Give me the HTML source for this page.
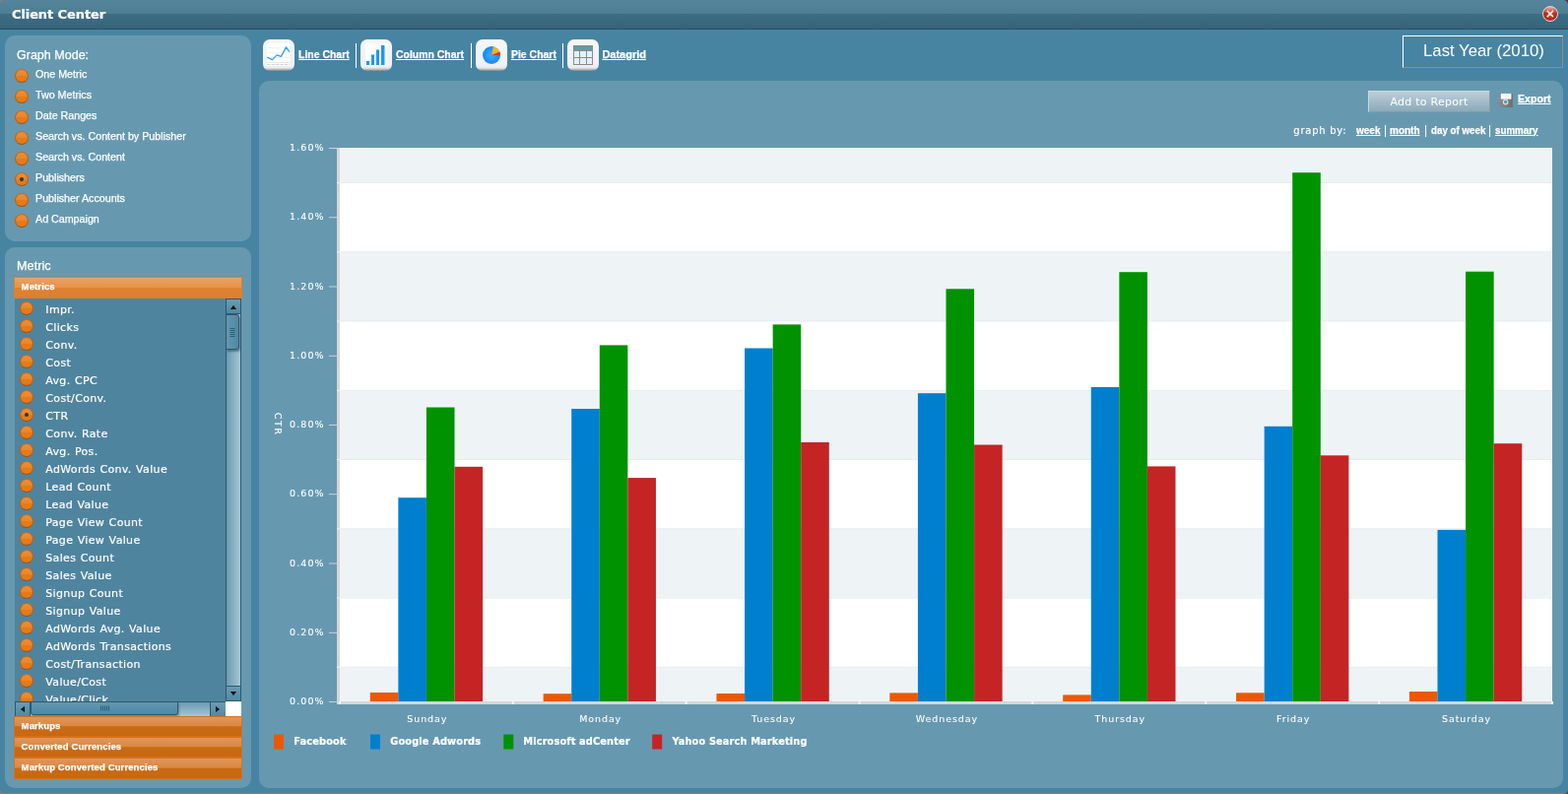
<!DOCTYPE html>
<html lang="en">
<head>
<meta charset="utf-8">
<title>Client Center</title>
<style>
*{box-sizing:border-box;margin:0;padding:0}
html,body{width:1592px;height:806px;overflow:hidden}
body{position:relative;background:#4784a1;color:#fff;font-family:"Liberation Sans",sans-serif;font-size:12px}
.abs{position:absolute}
.my{display:inline-block;white-space:nowrap;transform-origin:0 50%;-webkit-text-stroke:.25px #fff}
#titlebar{position:absolute;left:0;top:0;width:1592px;height:30px;
 background:linear-gradient(#54859b 0,#4e7e93 14px,#3d6e84 14px,#36637a 28.6px,#2a4e61 29px,#2a4e61 30px);}
#titlebar .t{position:absolute;left:12px;top:6px;font:bold 13px/18px "DejaVu Sans","Liberation Sans",sans-serif;letter-spacing:-.1px;white-space:nowrap;-webkit-text-stroke:.2px #fff}
#close{position:absolute;left:1566px;top:6px;width:16px;height:16px;border-radius:50%;
 background:linear-gradient(rgba(255,235,230,.7) 0,rgba(255,255,255,0) 48%),radial-gradient(circle at 50% 55%,#cf3a2e 0,#b4261a 60%,#96180e 100%);border:1px solid #ead6d2;
 color:#fff;font:15px/14px "Liberation Sans",sans-serif;-webkit-text-stroke:.3px #fff;text-align:center;overflow:hidden}
#close span{position:absolute;left:0;top:-.5px;width:14px;height:14px;display:block}
.cn{position:absolute;width:4px;height:4px}
.corner{position:absolute;width:6px;height:6px;background:#777}
.panel{position:absolute;background:#6699b0;border-radius:10px}
.h14{position:absolute;font-size:13.4px;line-height:16px;white-space:nowrap}
.opt{position:absolute;left:10px;height:14px;width:230px}
.rb{position:absolute;left:0;top:0;width:14px;height:14px;border-radius:50%;border:1px solid;border-color:#cc6a18 #be600f #a9510a #be600f;
 background:linear-gradient(#ec8f3a 0,#e8862b 48%,#e77a14 52%,#e27b1c 100%)}
.rb.on:after{content:"";position:absolute;left:4px;top:4px;width:4px;height:4px;border-radius:50%;background:#2a3447}
.ol{position:absolute;left:21.2px;top:-2.6px;font-size:11px;line-height:16px;transform:scaleX(.972)}
.acc{position:absolute;left:9px;width:232px;height:21px;border:1px solid #e47d22;}
.acc.open{background:linear-gradient(#eca263 0,#e8924a 48%,#df8232 52%,#dd7f2e 100%)}
.acc.shut{background:linear-gradient(#e0965a 0,#da8844 45%,#c96a14 52%,#c66812 100%);border-color:#d5721c}
.acc span{position:absolute;left:6.6px;top:1.5px;font-weight:bold;font-size:9.5px;line-height:14px;transform:none;letter-spacing:.12px}
#list{position:absolute;left:10px;top:52px;width:230px;height:409px;background:#4f849f;overflow:hidden}
.mi{position:absolute;left:5px;height:14px;width:200px}
.ml{-webkit-text-stroke:.18px #fff;position:absolute;left:26.3px;top:2px;font:11px/14px "DejaVu Sans","Liberation Sans",sans-serif;letter-spacing:.34px;word-spacing:.6px;white-space:nowrap}
.sbv{position:absolute;left:214px;top:0;width:16px;height:409px;border:1px solid #2c586e;background:linear-gradient(90deg,#6b9ab0,#a6c6d5)}
.sbh{position:absolute;left:0;top:409px;width:215px;height:16px;border:1px solid #2c586e;background:linear-gradient(#6b9ab0,#a6c6d5)}
.btn{position:absolute;background:linear-gradient(#6a9cb3,#4f88a3);border:0 solid #2c586e}
.thumbv{position:absolute;left:0;top:15px;width:13px;height:36px;background:linear-gradient(90deg,#6397af,#4f88a3);border:1px solid #2c586e;border-left:0;border-radius:0 3px 3px 0;box-shadow:1px 2px 2px rgba(30,60,80,.5)}
.thumbh{position:absolute;left:15px;top:0;width:150px;height:13px;background:linear-gradient(#6397af,#4f88a3);border:1px solid #2c586e;border-top:0;border-radius:0 0 3px 3px;box-shadow:1px 2px 2px rgba(30,60,80,.4)}
.tri{position:absolute;width:0;height:0;border:3.5px solid transparent}
.ico{position:absolute;top:40px;width:32px;height:32px;border-radius:7px;background:linear-gradient(#f4f7fa 0,#eef2f6 82%,#e6eaee 90%,#bdbdbd 95%,#827e7c 100%);}
.ico svg{position:absolute;left:0;top:0}
.tl{position:absolute;top:46.5px;font-weight:bold;font-size:11px;line-height:16px;text-decoration:underline;transform:scaleX(.95)}
.sep{position:absolute;top:44px;width:1px;height:25px;background:#fff}
#date{position:absolute;left:1424px;top:36px;width:163px;height:33px;border:1px solid;border-color:#fff #8e8e8e #8e8e8e #fff;}
#date span{position:absolute;left:20px;top:4px;font-size:17px;line-height:22px;transform:scaleX(.985);-webkit-text-stroke:0}
#addbtn{position:absolute;left:1389px;top:92px;width:124px;height:22px;border:1px solid;border-color:#c9d7de #8d9aa1 #8d9aa1 #c9d7de;background:linear-gradient(#bccfd9,#8aaaba);
 font:11px/21px "DejaVu Sans","Liberation Sans",sans-serif;letter-spacing:.25px;text-align:center;color:#fff}
.gb{position:absolute;top:125px;line-height:14px;white-space:nowrap}
.chart{position:absolute;left:0;top:0}
.ax{font:9.5px "DejaVu Sans","Liberation Sans",sans-serif;fill:#fff;letter-spacing:.9px;stroke:#fff;stroke-width:.08px}
.ay{letter-spacing:1.1px}
.lg{stroke:#fff;stroke-width:.2px;font:bold 9.8px "DejaVu Sans","Liberation Sans",sans-serif;fill:#fff;letter-spacing:.14px}
</style>
</head>
<body>
<div id="titlebar"><span class="t">Client Center</span>
 <div id="close"><span>&#215;</span></div>
</div>

<div class="panel" style="left:5px;top:36px;width:250px;height:209px">
 <div class="h14 my" style="left:12.2px;top:11.6px;transform:scaleX(.935)">Graph Mode:</div>
 <div style="position:absolute;left:0;top:-36px">
<div class="opt" style="top:70px"><span class="rb"></span><span class="my ol">One Metric</span></div>
<div class="opt" style="top:91px"><span class="rb"></span><span class="my ol">Two Metrics</span></div>
<div class="opt" style="top:112px"><span class="rb"></span><span class="my ol">Date Ranges</span></div>
<div class="opt" style="top:133px"><span class="rb"></span><span class="my ol">Search vs. Content by Publisher</span></div>
<div class="opt" style="top:154px"><span class="rb"></span><span class="my ol">Search vs. Content</span></div>
<div class="opt" style="top:175px"><span class="rb on"></span><span class="my ol">Publishers</span></div>
<div class="opt" style="top:196px"><span class="rb"></span><span class="my ol">Publisher Accounts</span></div>
<div class="opt" style="top:217px"><span class="rb"></span><span class="my ol">Ad Campaign</span></div>
 </div>
</div>

<div class="panel" style="left:5px;top:251px;width:250px;height:549px">
 <div class="h14 my" style="left:12.3px;top:10.5px;transform:scaleX(.95)">Metric</div>
 <div class="acc open" style="top:30px;height:22px"><span class="my">Metrics</span></div>
 <div id="list">
<div class="mi" style="top:3px"><span class="rb"></span><span class="ml">Impr.</span></div>
<div class="mi" style="top:21px"><span class="rb"></span><span class="ml">Clicks</span></div>
<div class="mi" style="top:39px"><span class="rb"></span><span class="ml">Conv.</span></div>
<div class="mi" style="top:57px"><span class="rb"></span><span class="ml">Cost</span></div>
<div class="mi" style="top:75px"><span class="rb"></span><span class="ml">Avg. CPC</span></div>
<div class="mi" style="top:93px"><span class="rb"></span><span class="ml">Cost/Conv.</span></div>
<div class="mi" style="top:111px"><span class="rb on"></span><span class="ml">CTR</span></div>
<div class="mi" style="top:129px"><span class="rb"></span><span class="ml">Conv. Rate</span></div>
<div class="mi" style="top:147px"><span class="rb"></span><span class="ml">Avg. Pos.</span></div>
<div class="mi" style="top:165px"><span class="rb"></span><span class="ml">AdWords Conv. Value</span></div>
<div class="mi" style="top:183px"><span class="rb"></span><span class="ml">Lead Count</span></div>
<div class="mi" style="top:201px"><span class="rb"></span><span class="ml">Lead Value</span></div>
<div class="mi" style="top:219px"><span class="rb"></span><span class="ml">Page View Count</span></div>
<div class="mi" style="top:237px"><span class="rb"></span><span class="ml">Page View Value</span></div>
<div class="mi" style="top:255px"><span class="rb"></span><span class="ml">Sales Count</span></div>
<div class="mi" style="top:273px"><span class="rb"></span><span class="ml">Sales Value</span></div>
<div class="mi" style="top:291px"><span class="rb"></span><span class="ml">Signup Count</span></div>
<div class="mi" style="top:309px"><span class="rb"></span><span class="ml">Signup Value</span></div>
<div class="mi" style="top:327px"><span class="rb"></span><span class="ml">AdWords Avg. Value</span></div>
<div class="mi" style="top:345px"><span class="rb"></span><span class="ml">AdWords Transactions</span></div>
<div class="mi" style="top:363px"><span class="rb"></span><span class="ml">Cost/Transaction</span></div>
<div class="mi" style="top:381px"><span class="rb"></span><span class="ml">Value/Cost</span></div>
<div class="mi" style="top:399px"><span class="rb"></span><span class="ml">Value/Click</span></div>
  <div class="sbv">
   <div class="btn" style="left:0;top:0;width:14px;height:15px;border-bottom-width:1px"><i class="tri" style="left:3.5px;top:5.5px;border-bottom-color:#000;border-top-width:0;border-bottom-width:4px"></i></div>
   <div class="thumbv"><svg width="13" height="36" style="position:absolute;left:0;top:-1px"><path d="M3.5 14.5h5M3.5 16.5h5M3.5 18.5h5M3.5 20.5h5M3.5 22.5h5" stroke="#2f5d74" stroke-width="1"/></svg></div>
   <div class="btn" style="left:0;top:392px;width:14px;height:15px;border-top-width:1px"><i class="tri" style="left:3.5px;top:5px;border-top-color:#000;border-bottom-width:0;border-top-width:4px"></i></div>
  </div>
 </div>
 <div style="position:absolute;left:10px;top:461px;width:235px;height:15px;">
  <div class="sbh" style="top:0">
   <div class="btn" style="left:0;top:0;width:15px;height:14px;border-right-width:1px"><i class="tri" style="left:5px;top:3.5px;border-right-color:#000;border-left-width:0;border-right-width:4px"></i></div>
   <div class="thumbh"><svg width="150" height="13" style="position:absolute;left:0;top:0"><path d="M70.5 3.5v5M72.5 3.5v5M74.5 3.5v5M76.5 3.5v5M78.5 3.5v5" stroke="#2f5d74" stroke-width="1"/></svg></div>
   <div class="btn" style="left:197px;top:0;width:16px;height:14px;border-left-width:1px"><i class="tri" style="left:5px;top:3.5px;border-left-color:#000;border-right-width:0;border-left-width:4px"></i></div>
  </div>
  <div style="position:absolute;left:214px;top:0;width:16px;height:15px;background:#fff"></div>
 </div>
 <div class="acc shut" style="top:476px"><span class="my">Markups</span></div>
 <div class="acc shut" style="top:497px"><span class="my">Converted Currencies</span></div>
 <div class="acc shut" style="top:518px;height:22px"><span class="my">Markup Converted Currencies</span></div>
</div>

<div class="ico" style="left:267px"><svg width="32" height="32" viewBox="0 0 32 32"><rect x="4" y="4" width="23" height="23" fill="#fff"/><path d="M4 8.500h23M4 13.500h23M4 18.500h23" stroke="#f3f3f3" stroke-width="1"/><path d="M4 23.500h23" stroke="#e8e8e8" stroke-width="1"/><path d="M4 25.500h23" stroke="#d4d4d4" stroke-width="1" stroke-dasharray="3.500 1"/><path d="M4.200 18.200 L9.500 20.600 L14.100 15.900 L18.400 17.400 L23.400 7.900 L27 12.600" fill="none" stroke="#35a0f2" stroke-width="1.300" stroke-linejoin="round"/></svg></div>
<span class="tl my" style="left:302.5px">Line Chart</span>
<div class="sep" style="left:361px"></div>
<div class="ico" style="left:366px"><svg width="32" height="32" viewBox="0 0 32 32"><rect x="5" y="4" width="22" height="23" fill="#fbfcfd"/><rect x="6" y="22" width="3" height="4" fill="#2196f3"/><rect x="11" y="15.500" width="3" height="10.500" fill="#2196f3"/><rect x="16" y="10.500" width="3" height="15.500" fill="#2196f3"/><rect x="21" y="6" width="3.500" height="20" fill="#2196f3"/></svg></div>
<span class="tl my" style="left:402px">Column Chart</span>
<div class="sep" style="left:478px"></div>
<div class="ico" style="left:483px"><div style="position:absolute;left:6.95px;top:6.9px;width:18px;height:18px;border-radius:50%;background:radial-gradient(circle at 50% 50%,#34b0ff 0,#1c86ee 70%,#0d60d8 100%)"></div><svg width="32" height="32" viewBox="0 0 32 32"><path d="M15.95 15.9 L17.97 7.13 A9 9 0 0 1 24.41 12.82 Z" fill="#f6b516"/><path d="M15.95 15.9 L24.41 12.82 A9 9 0 0 1 24.95 15.90 Z" fill="#ea2f14"/></svg></div>
<span class="tl my" style="left:518.7px">Pie Chart</span>
<div class="sep" style="left:571px"></div>
<div class="ico" style="left:576px"><svg width="32" height="32" viewBox="0 0 32 32" shape-rendering="crispEdges"><rect x="6" y="6" width="20" height="20" fill="#8a8a8a"/><rect x="7" y="7" width="5" height="4" fill="#58a0a4"/><rect x="13" y="7" width="6" height="4" fill="#58a0a4"/><rect x="20" y="7" width="5" height="4" fill="#58a0a4"/><rect x="7" y="12" width="5" height="6" fill="#e2f1fd"/><rect x="13" y="12" width="6" height="6" fill="#e2f1fd"/><rect x="20" y="12" width="5" height="6" fill="#e2f1fd"/><rect x="7" y="19" width="5" height="6" fill="#e2f1fd"/><rect x="13" y="19" width="6" height="6" fill="#e2f1fd"/><rect x="20" y="19" width="5" height="6" fill="#e2f1fd"/></svg></div>
<span class="tl my" style="left:611.4px;transform:scaleX(1)">Datagrid</span>

<div id="date"><span class="my">Last Year (2010)</span></div>

<div class="panel" style="left:263px;top:82px;width:1324px;height:718px"></div>
<div id="addbtn">Add to Report</div>
<div class="abs" style="left:1522px;top:95px;width:14px;height:14px;background:linear-gradient(90deg,#8a8a8a,#6f6f6f)"><svg width="14" height="14" viewBox="0 0 14 14" style="position:absolute;left:0;top:0"><rect x="1.800" y="0" width="10.600" height="5.600" fill="#fff"/><rect x="3.500" y="1.800" width="7" height="1" fill="#ececec"/><circle cx="6.600" cy="8.600" r="2.300" fill="#5c9cb8" stroke="#d8dcde" stroke-width="1.100"/></svg></div>
<span class="gb my" style="left:1540.5px;top:93px;font-weight:bold;font-size:11px;text-decoration:underline;transform:scaleX(.965)">Export</span>

<span class="gb" style="left:1313.3px;top:126px;font:10px/14px 'DejaVu Sans','Liberation Sans',sans-serif;letter-spacing:.75px;-webkit-text-stroke:.15px #fff">graph by:</span>
<span class="gb my" style="left:1377px;font-weight:bold;font-size:11.5px;text-decoration:underline;transform:scaleX(.87)">week</span>
<span class="gb" style="left:1405px;font-size:12px">|</span>
<span class="gb my" style="left:1411.3px;font-weight:bold;font-size:11.5px;text-decoration:underline;transform:scaleX(.87)">month</span>
<span class="gb" style="left:1446px;font-size:12px">|</span>
<span class="gb my" style="left:1452.6px;font-weight:bold;font-size:11.5px;transform:scaleX(.85)">day of week</span>
<span class="gb" style="left:1511px;font-size:12px">|</span>
<span class="gb my" style="left:1517.5px;font-weight:bold;font-size:11.5px;text-decoration:underline;transform:scaleX(.85)">summary</span>

<svg class="chart" width="1592" height="806" viewBox="0 0 1592 806">
<rect x="345.0" y="150.0" width="1231.0" height="562.0" fill="#ffffff" shape-rendering="crispEdges"/>
<rect x="345.0" y="150.0" width="1231.0" height="35.5" fill="#eef3f6"/>
<rect x="345.0" y="255.8" width="1231.0" height="70.2" fill="#eef3f6"/>
<rect x="345.0" y="396.3" width="1231.0" height="70.2" fill="#eef3f6"/>
<rect x="345.0" y="536.8" width="1231.0" height="70.2" fill="#eef3f6"/>
<rect x="345.0" y="677.3" width="1231.0" height="34.7" fill="#eef3f6"/>
<rect x="345.0" y="185.0" width="1231.0" height="1" fill="#e6ecf0"/>
<rect x="345.0" y="255.3" width="1231.0" height="1" fill="#e6ecf0"/>
<rect x="345.0" y="325.5" width="1231.0" height="1" fill="#e6ecf0"/>
<rect x="345.0" y="395.8" width="1231.0" height="1" fill="#e6ecf0"/>
<rect x="345.0" y="466.0" width="1231.0" height="1" fill="#e6ecf0"/>
<rect x="345.0" y="536.3" width="1231.0" height="1" fill="#e6ecf0"/>
<rect x="345.0" y="606.5" width="1231.0" height="1" fill="#e6ecf0"/>
<rect x="345.0" y="676.8" width="1231.0" height="1" fill="#e6ecf0"/>
<rect x="375.78" y="703.0" width="28.58" height="9.0" fill="#ec5800"/>
<rect x="404.35" y="505.2" width="28.58" height="206.8" fill="#007fcf"/>
<rect x="432.93" y="413.5" width="28.58" height="298.5" fill="#009200"/>
<rect x="461.51" y="473.8" width="28.58" height="238.2" fill="#c42424"/>
<rect x="551.63" y="704.2" width="28.58" height="7.8" fill="#ec5800"/>
<rect x="580.21" y="415.0" width="28.58" height="297.0" fill="#007fcf"/>
<rect x="608.79" y="350.4" width="28.58" height="361.6" fill="#009200"/>
<rect x="637.36" y="485.1" width="28.58" height="226.9" fill="#c42424"/>
<rect x="727.49" y="704.0" width="28.58" height="8.0" fill="#ec5800"/>
<rect x="756.07" y="353.5" width="28.58" height="358.5" fill="#007fcf"/>
<rect x="784.64" y="329.4" width="28.58" height="382.6" fill="#009200"/>
<rect x="813.22" y="449.0" width="28.58" height="263.0" fill="#c42424"/>
<rect x="903.35" y="703.4" width="28.58" height="8.6" fill="#ec5800"/>
<rect x="931.92" y="399.2" width="28.58" height="312.8" fill="#007fcf"/>
<rect x="960.50" y="293.3" width="28.58" height="418.7" fill="#009200"/>
<rect x="989.08" y="451.5" width="28.58" height="260.5" fill="#c42424"/>
<rect x="1079.20" y="705.4" width="28.58" height="6.6" fill="#ec5800"/>
<rect x="1107.78" y="392.9" width="28.58" height="319.1" fill="#007fcf"/>
<rect x="1136.36" y="276.2" width="28.58" height="435.8" fill="#009200"/>
<rect x="1164.93" y="473.4" width="28.58" height="238.6" fill="#c42424"/>
<rect x="1255.06" y="703.3" width="28.58" height="8.7" fill="#ec5800"/>
<rect x="1283.64" y="432.8" width="28.58" height="279.2" fill="#007fcf"/>
<rect x="1312.21" y="175.2" width="28.58" height="536.8" fill="#009200"/>
<rect x="1340.79" y="462.3" width="28.58" height="249.7" fill="#c42424"/>
<rect x="1430.92" y="702.0" width="28.58" height="10.0" fill="#ec5800"/>
<rect x="1459.49" y="537.9" width="28.58" height="174.1" fill="#007fcf"/>
<rect x="1488.07" y="275.7" width="28.58" height="436.3" fill="#009200"/>
<rect x="1516.65" y="450.2" width="28.58" height="261.8" fill="#c42424"/>
<rect x="342" y="150.0" width="3" height="565.0" fill="#d6d6d6" shape-rendering="crispEdges"/>
<rect x="342" y="712" width="1234.0" height="3" fill="#d6d6d6" shape-rendering="crispEdges"/>
<rect x="342" y="185.0" width="3" height="1" fill="#f4f4f4"/>
<rect x="342" y="255.3" width="3" height="1" fill="#f4f4f4"/>
<rect x="342" y="325.5" width="3" height="1" fill="#f4f4f4"/>
<rect x="342" y="395.8" width="3" height="1" fill="#f4f4f4"/>
<rect x="342" y="466.0" width="3" height="1" fill="#f4f4f4"/>
<rect x="342" y="536.3" width="3" height="1" fill="#f4f4f4"/>
<rect x="342" y="606.5" width="3" height="1" fill="#f4f4f4"/>
<rect x="342" y="676.8" width="3" height="1" fill="#f4f4f4"/>
<rect x="344.0" y="712" width="2" height="3" fill="#f6f6f6"/>
<rect x="519.9" y="712" width="2" height="3" fill="#f6f6f6"/>
<rect x="695.7" y="712" width="2" height="3" fill="#f6f6f6"/>
<rect x="871.6" y="712" width="2" height="3" fill="#f6f6f6"/>
<rect x="1047.4" y="712" width="2" height="3" fill="#f6f6f6"/>
<rect x="1223.3" y="712" width="2" height="3" fill="#f6f6f6"/>
<rect x="1399.1" y="712" width="2" height="3" fill="#f6f6f6"/>
<rect x="1575.0" y="712" width="2" height="3" fill="#f6f6f6"/>
<rect x="334" y="150.0" width="9" height="1" fill="#c3d5de"/>
<text class="ax ay" x="329.7" y="153.1" text-anchor="end">1.60%</text>
<rect x="334" y="220.2" width="9" height="1" fill="#c3d5de"/>
<text class="ax ay" x="329.7" y="223.3" text-anchor="end">1.40%</text>
<rect x="334" y="290.5" width="9" height="1" fill="#c3d5de"/>
<text class="ax ay" x="329.7" y="293.6" text-anchor="end">1.20%</text>
<rect x="334" y="360.8" width="9" height="1" fill="#c3d5de"/>
<text class="ax ay" x="329.7" y="363.9" text-anchor="end">1.00%</text>
<rect x="334" y="431.0" width="9" height="1" fill="#c3d5de"/>
<text class="ax ay" x="329.7" y="434.1" text-anchor="end">0.80%</text>
<rect x="334" y="501.2" width="9" height="1" fill="#c3d5de"/>
<text class="ax ay" x="329.7" y="504.4" text-anchor="end">0.60%</text>
<rect x="334" y="571.5" width="9" height="1" fill="#c3d5de"/>
<text class="ax ay" x="329.7" y="574.6" text-anchor="end">0.40%</text>
<rect x="334" y="641.8" width="9" height="1" fill="#c3d5de"/>
<text class="ax ay" x="329.7" y="644.9" text-anchor="end">0.20%</text>
<rect x="334" y="712.0" width="9" height="1" fill="#c3d5de"/>
<text class="ax ay" x="329.7" y="715.1" text-anchor="end">0.00%</text>
<text class="ax" x="433.8" y="733" text-anchor="middle">Sunday</text>
<text class="ax" x="609.7" y="733" text-anchor="middle">Monday</text>
<text class="ax" x="785.5" y="733" text-anchor="middle">Tuesday</text>
<text class="ax" x="961.4" y="733" text-anchor="middle">Wednesday</text>
<text class="ax" x="1137.3" y="733" text-anchor="middle">Thursday</text>
<text class="ax" x="1313.1" y="733" text-anchor="middle">Friday</text>
<text class="ax" x="1489.0" y="733" text-anchor="middle">Saturday</text>
<text class="ax" style="letter-spacing:1.6px" transform="translate(278.7,430.6) rotate(90)" text-anchor="middle">CTR</text>
<rect x="278" y="745.5" width="10" height="15" fill="#ec5800"/>
<text class="lg" x="298.3" y="756">Facebook</text>
<rect x="376" y="745.5" width="10" height="15" fill="#007fcf"/>
<text class="lg" x="396.3" y="756">Google Adwords</text>
<rect x="511.3" y="745.5" width="10" height="15" fill="#009200"/>
<text class="lg" x="531.3" y="756">Microsoft adCenter</text>
<rect x="662.2" y="745.5" width="10" height="15" fill="#c42424"/>
<text class="lg" x="682.4" y="756">Yahoo Search Marketing</text>
</svg>
<div class="abs" style="left:0;top:805px;width:1592px;height:1px;background:#67899a"></div>
<div class="cn" style="left:0;top:0;background:radial-gradient(circle at 100% 100%,rgba(128,128,128,0) 3.3px,#808080 4.2px)"></div>
<div class="cn" style="right:0;top:0;background:radial-gradient(circle at 0 100%,rgba(60,60,60,0) 3.3px,#3c3c3c 4.2px)"></div>
<div class="cn" style="left:0;bottom:0;background:radial-gradient(circle at 100% 0,rgba(128,128,128,0) 3.3px,#808080 4.2px)"></div>
<div class="cn" style="right:0;bottom:0;background:radial-gradient(circle at 0 0,rgba(60,60,60,0) 3.3px,#4a4a44 4.2px)"></div>
</body>
</html>
